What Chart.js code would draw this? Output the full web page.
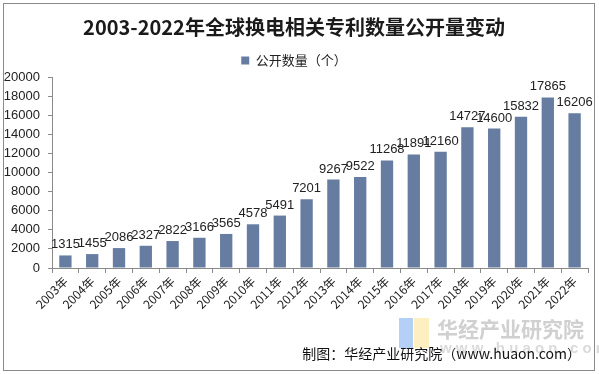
<!DOCTYPE html>
<html>
<head>
<meta charset="utf-8">
<script src="https://cdn.jsdelivr.net/npm/chart.js@4/dist/chart.umd.min.js"></script>
<style>
  body { margin: 0; background: #fff; }
  #wrap { position: relative; width: 599px; height: 374px; }
  #frame { position: absolute; left: 3px; top: 3px; width: 590px; height: 366px; border: 1px solid #8a8a8a; pointer-events: none; }
</style>
</head>
<body>
<div id="wrap">
  <canvas id="patentChart" width="599" height="374"></canvas>
  <div id="frame"></div>
</div>
<script>
const years = ["2003年", "2004年", "2005年", "2006年", "2007年", "2008年", "2009年", "2010年", "2011年", "2012年",
  "2013年", "2014年", "2015年", "2016年", "2017年", "2018年", "2019年", "2020年", "2021年", "2022年"];
const patentCounts = [1315, 1455, 2086, 2327, 2822, 3166, 3565, 4578, 5491, 7201,
  9267, 9522, 11268, 11891, 12160, 14727, 14600, 15832, 17865, 16206];
const yTicks = [0, 2000, 4000, 6000, 8000, 10000, 12000, 14000, 16000, 18000, 20000];

const cjk = "'Noto Sans CJK SC', 'Liberation Sans', sans-serif";

// value labels above each bar
const barLabels = {
  id: "barLabels",
  afterDatasetsDraw(chart) {
    const c = chart.ctx;
    const meta = chart.getDatasetMeta(0);
    c.save();
    c.font = "13px 'Liberation Sans', Arial, sans-serif";
    c.fillStyle = "#222";
    c.textAlign = "center";
    c.textBaseline = "alphabetic";
    meta.data.forEach(function (bar, i) {
      c.fillText(String(patentCounts[i]), bar.x, bar.y - 7);
    });
    c.restore();
  },
};

// watermark + source note
const footer = {
  id: "footer",
  afterDraw(chart) {
    const c = chart.ctx;
    c.save();
    c.fillStyle = "rgba(120,170,240,0.55)";
    c.fillRect(399, 318, 14, 30);
    c.fillStyle = "rgba(250,230,150,0.6)";
    c.fillRect(414, 318, 15, 30);
    c.font = "bold 21px " + cjk;
    c.fillStyle = "#d0d0d0";
    c.textBaseline = "middle";
    c.textAlign = "left";
    c.fillText("华经产业研究院", 437, 329);
    c.font = "bold 15px 'Liberation Sans', Arial, sans-serif";
    c.fillStyle = "#dadada";
    c.fillText("w w w . h u a o n . c o m", 440, 349);
    c.font = "14px " + cjk;
    c.fillStyle = "#111";
    c.textAlign = "right";
    c.fillText("制图：华经产业研究院（www.huaon.com）", 581, 354);
    c.restore();
  },
};

const ctx = document.getElementById("patentChart").getContext("2d");
const patentChart = new Chart(ctx, {
  type: "bar",
  data: {
    labels: years,
    datasets: [
      {
        label: "公开数量（个）",
        data: patentCounts,
        backgroundColor: "#667ca1",
        categoryPercentage: 1,
        barPercentage: 0.46,
      },
    ],
  },
  options: {
    responsive: false,
    animation: false,
    layout: { padding: { top: 0, left: 0, right: 11, bottom: 0 } },
    scales: {
      x: {
        grid: { drawOnChartArea: false, tickLength: 5, color: "#8a8a8a", offset: true },
        border: { color: "#8a8a8a" },
        ticks: {
          color: "#222",
          font: { size: 12, family: cjk },
          maxRotation: 45,
          minRotation: 45,
          padding: 1,
          autoSkip: false,
        },
        afterFit: function (scale) { scale.height = 106; },
      },
      y: {
        min: 0,
        max: 20000,
        afterBuildTicks: function (scale) {
          scale.ticks = yTicks.map(function (v) { return { value: v }; });
        },
        grid: { drawOnChartArea: false, tickLength: 4, color: "#8a8a8a" },
        border: { color: "#8a8a8a" },
        ticks: {
          color: "#222",
          font: { size: 13, family: "'Liberation Sans', Arial, sans-serif" },
          padding: 8,
          callback: function (value) { return String(value); },
        },
        afterFit: function (scale) { scale.width = 52; },
      },
    },
    plugins: {
      title: {
        display: true,
        text: "2003-2022年全球换电相关专利数量公开量变动",
        color: "#1a1a1a",
        font: { size: 20, weight: "bold", family: cjk },
        padding: { top: 15, bottom: 10 },
      },
      legend: {
        display: true,
        labels: {
          color: "#222",
          font: { size: 13, family: cjk },
          boxWidth: 8,
          boxHeight: 8,
          padding: 5,
        },
      },
      tooltip: { enabled: false },
    },
  },
  plugins: [barLabels, footer],
});
</script>
</body>
</html>
